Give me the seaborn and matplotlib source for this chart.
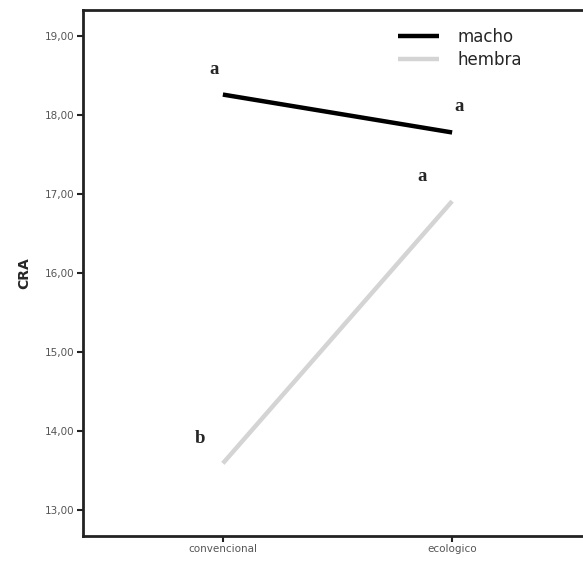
import pandas as pd
import numpy as np
import matplotlib
matplotlib.use('Agg')
import matplotlib.pyplot as plt
import seaborn as sns

###### Data
sistema = ['convencional', 'ecologico']
sexo = ['macho', 'hembra']
cra_macho = [18.26, 17.78]
cra_hembra = [13.59, 16.91]
letras_macho = ['a', 'a']
letras_hembra = ['b', 'a']
y_ticks = [13, 14, 15, 16, 17, 18, 19]

df = pd.DataFrame({
    'sistema': sistema * 2,
    'sexo': [sexo[0]] * 2 + [sexo[1]] * 2,
    'CRA': cra_macho + cra_hembra,
})

sns.set_style('white')
fig = plt.figure(figsize=(5.83, 5.68), dpi=100)
ax = fig.add_axes([0.1424, 0.0563, 0.873, 0.926])

sns.lineplot(data=df, x='sistema', y='CRA', hue='sexo', hue_order=sexo,
             palette={'macho': '#000000', 'hembra': '#d4d4d4'},
             linewidth=3.2, ax=ax, sort=False, solid_capstyle='butt')

ax.set_xlim(-0.61, 1.61)
ax.set_ylim(12.67, 19.33)
ax.set_yticks(y_ticks)
ax.set_yticklabels(['{:.2f}'.format(v).replace('.', ',') for v in y_ticks],
                   fontsize=7.5, color='#555555')
ax.set_xticks([0, 1])
ax.set_xticklabels(sistema, fontsize=7.5, color='#555555')
ax.tick_params(axis='both', direction='out', length=4, width=1.5, color='#222222',
               left=True, bottom=True, pad=2)
ax.set_xlabel('')
ax.set_ylabel('CRA', fontsize=10, fontweight='bold', labelpad=10)

for s in ['left', 'bottom', 'top']:
    ax.spines[s].set_linewidth(2)
    ax.spines[s].set_color('#222222')
ax.spines['right'].set_visible(False)

# significance letters
off_macho = [(-0.04, 0.32), (0.03, 0.33)]
off_hembra = [(-0.10, 0.32), (-0.13, 0.31)]
for i in range(2):
    ax.text(i + off_macho[i][0], cra_macho[i] + off_macho[i][1], letras_macho[i],
            family='Liberation Serif', fontweight='bold', fontsize=13.5,
            ha='center', va='center')
    ax.text(i + off_hembra[i][0], cra_hembra[i] + off_hembra[i][1], letras_hembra[i],
            family='Liberation Serif', fontweight='bold', fontsize=13.5,
            ha='center', va='center')

leg = ax.legend(loc='upper left', bbox_to_anchor=(0.59, 0.995), frameon=False,
                fontsize=12, handlelength=2.45, handletextpad=1.1, labelspacing=0.3)
for line in leg.get_lines():
    line.set_linewidth(3.2)
    line.set_solid_capstyle('butt')

fig.savefig('out.png', dpi=100)
